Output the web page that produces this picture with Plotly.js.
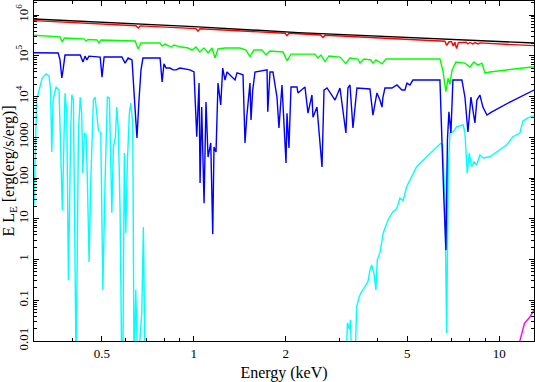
<!DOCTYPE html>
<html>
<head>
<meta charset="utf-8">
<script src="https://cdn.plot.ly/plotly-3.0.1.min.js"></script>
<style>
  body { margin: 0; background: #fff; }
  #plot { width: 535px; height: 382px; }
</style>
</head>
<body>
<div id="plot"></div>
<script>
// energies in keV, luminosities E*L_E
const blackE = [0.3, 1.0, 2.2, 13.0];
const blackL = [8.0e5, 5.2e5, 3.7e5, 2.05e5];

const redE = [0.3, 0.647, 0.658, 0.668, 1.017, 1.032, 1.048, 1.99, 2.02, 2.05, 2.60, 2.65, 2.69,
  6.40, 6.64, 6.73, 6.85, 6.98, 7.07, 7.16, 7.25, 7.35, 7.8, 7.9, 8.02, 8.2, 8.33, 8.52, 8.65, 13.0];
const redL = [7.3e5, 5.44e5, 4.8e5, 5.4e5, 4.65e5, 4.0e5, 4.6e5, 3.57e5, 3.1e5, 3.55e5, 3.23e5, 2.8e5, 3.2e5,
  2.31e5, 2.27e5, 1.8e5, 2.2e5, 2.2e5, 1.75e5, 2.15e5, 1.5e5, 2.1e5, 2.14e5, 1.95e5, 2.12e5, 1.95e5, 2.1e5, 1.95e5, 2.07e5, 1.77e5];

const greenE = [0.3, 0.352, 0.365, 0.371, 0.377, 0.4375, 0.444, 0.451, 0.483, 0.490, 0.497,
  0.643, 0.658, 0.672, 0.776, 0.788, 0.806, 0.843, 0.862, 0.902, 0.958, 0.987, 1.017, 1.048,
  1.081, 1.114, 1.148, 1.174, 1.201, 1.266, 1.417, 1.483, 1.528, 1.575, 1.673, 1.724, 1.777,
  1.96, 2.02, 2.082, 2.494, 2.551, 2.609, 2.69, 2.772, 3.011, 3.149, 3.247, 3.449, 3.50, 3.609,
  3.803, 3.861, 3.949, 4.133, 4.259, 6.397, 6.54, 6.693, 6.80, 6.90, 7.0, 7.215, 7.724, 8.02,
  8.265, 8.518, 8.779, 8.98, 9.324, 13.0];
const greenL = [3.2e5, 3.05e5, 2.9e5, 2.17e5, 2.73e5, 2.6e5, 2.3e5, 2.5e5, 2.44e5, 2.05e5, 2.44e5,
  2.3e5, 1.47e5, 2.05e5, 2.05e5, 1.73e5, 1.94e5, 1.64e5, 1.84e5, 1.66e5, 1.55e5, 1.38e5, 1.64e5, 1.24e5,
  1.55e5, 1.17e5, 1.55e5, 8.8e4, 1.47e5, 1.55e5, 1.55e5, 1.38e5, 9.5e4, 1.38e5, 1.38e5, 1.04e5, 1.31e5,
  1.24e5, 7.6e4, 1.10e5, 1.10e5, 8.8e4, 1.04e5, 7.2e4, 9.9e4, 9.3e4, 6.5e4, 8.8e4, 8.3e4, 6.6e4, 8.3e4,
  7.9e4, 6.6e4, 7.9e4, 6.3e4, 8.3e4, 8.3e4, 4.3e4, 1.31e4, 2.8e4, 2.0e4, 4.3e4, 7.0e4, 6.6e4, 5.3e4,
  7.0e4, 5.9e4, 6.6e4, 3.8e4, 4.0e4, 5.4e4];

const blueE = [0.3, 0.360, 0.365, 0.370, 0.3735, 0.379, 0.425, 0.434, 0.441, 0.447, 0.454, 0.494,
  0.501, 0.509, 0.582, 0.596, 0.610, 0.628, 0.643, 0.652, 0.662, 0.672, 0.682, 0.776, 0.788,
  0.799, 0.812, 0.836, 0.856, 0.875, 0.902, 0.972, 1.002, 1.023, 1.041, 1.049, 1.062, 1.081,
  1.097, 1.114, 1.137, 1.154, 1.165, 1.183, 1.201, 1.226, 1.244, 1.266, 1.285, 1.365, 1.386,
  1.450, 1.472, 1.491, 1.528, 1.540, 1.560, 1.587, 1.738, 1.747, 1.777, 1.817, 1.873, 1.901,
  1.945, 2.005, 2.020, 2.050, 2.082, 2.178, 2.194, 2.313, 2.366, 2.438, 2.457, 2.532, 2.630,
  2.670, 2.731, 2.901, 3.011, 3.149, 3.197, 3.247, 3.321, 3.422, 3.775, 3.861, 3.979, 4.070,
  4.133, 4.164, 4.227, 4.456, 4.627, 4.804, 4.914, 4.989, 5.103, 5.219, 6.397, 6.494, 6.592,
  6.693, 6.769, 6.846, 6.950, 7.056, 7.551, 7.724, 7.901, 8.082, 8.204, 8.328, 8.453, 8.648,
  8.845, 9.116, 9.465, 10.84, 13.0];
const blueL = [1.19e5, 1.17e5, 7.9e4, 2.85e4, 4.5e4, 1.04e5, 1.04e5, 7.0e4, 9.8e4, 7.9e4, 9.8e4, 9.3e4,
  3.0e4, 9.3e4, 9.3e4, 6.6e4, 8.8e4, 7.9e4, 4.7e3, 960, 8.2e3, 4.5e4, 8.8e4, 8.8e4, 2.27e4,
  6.3e4, 5.0e4, 5.0e4, 4.5e4, 4.5e4, 5.0e4, 4.5e4, 4.0e4, 1.03e3, 2.14e4, 75, 5.5e3, 24,
  7.3e3, 327, 723, 4.2, 577, 435, 2.14e4, 6.2e3, 5.0e4, 2.54e4, 4.0e4, 2.54e4, 3.8e4,
  3.4e4, 723, 3.1e3, 2.14e4, 2.65e3, 1.44e4, 4.0e4, 4.5e4, 4.2e3, 4.0e4, 4.0e4, 9.7e3, 1.69e3,
  1.92e4, 233, 3.9e3, 545, 1.71e4, 1.71e4, 1.22e4, 1.71e4, 3.9e3, 1.09e4, 3.1e3, 5.5e3, 186,
  1.44e4, 1.62e4, 8.2e3, 1.62e4, 1.27e3, 1.62e4, 1.92e4, 1.69e3, 1.62e4, 1.53e4, 3.5e3, 1.22e4, 8.2e3,
  5.5e3, 9.7e3, 1.62e4, 1.62e4, 1.92e4, 1.44e4, 1.44e4, 2.14e4, 1.92e4, 2.54e4, 2.54e4, 486, 29,
  1.7, 857, 4.2e3, 1.27e3, 2.54e4, 2.54e4, 9.7e3, 1.35e3, 9.7e3, 4.7e3, 2.24e3, 8.2e3, 1.09e4,
  5.5e3, 3.5e3, 4.2e3, 7.3e3, 1.44e4];

const cyanE = [0.3, 0.306, 0.319, 0.3286, 0.336, 0.340, 0.343, 0.3464, 0.3542, 0.3623, 0.3715,
  0.3763, 0.379, 0.3841, 0.3888, 0.3959, 0.399, 0.4038, 0.4121, 0.4193, 0.425, 0.430, 0.4333,
  0.4385, 0.4442, 0.4486, 0.4544, 0.4603, 0.4694, 0.4754, 0.4874, 0.4963, 0.504, 0.5127, 0.5217,
  0.5296, 0.5393, 0.5458, 0.554, 0.5598, 0.5666, 0.5738, 0.5813, 0.5857, 0.5928, 0.5991, 0.6063,
  0.6156, 0.6221, 0.6315, 0.6377, 0.646, 0.6558, 0.676, 0.6842, 0.6929,
  3.149, 3.186, 3.234, 3.259, 3.296, 3.371, 3.414, 3.482, 3.545, 3.635, 3.718, 3.775, 3.824,
  3.890, 3.949, 3.988, 4.070, 4.173, 4.323, 4.489, 4.615, 4.732, 4.793, 4.841, 4.977, 5.169,
  5.366, 5.787, 6.241, 6.432, 6.529, 6.643, 6.729, 6.810, 6.898, 7.071, 7.254, 7.625, 7.724,
  7.859, 7.978, 8.124, 8.265, 8.433, 8.648, 8.864, 9.324, 10.05, 10.57, 11.09, 11.69, 11.96,
  12.41, 12.9, 13.0];
const cyanL = [22, 8.2e3, 2.85e4, 3.6e4, 3.2e4, 1.44e4, 435, 8.2e3, 1.71e4, 1.44e4, 16,
  2.65e3, 1.2e4, 3.9e3, 0.31, 1.8e3, 1.1e4, 8.2e3, 0.002, 1.27e3, 9.7e3, 3.5e3, 133,
  1.27e3, 1.13e3, 89, 0.87, 89, 8.2e3, 9.7e3, 1.5e3, 1.27e3, 0.18, 89, 9.7e3,
  9.2e3, 14, 577, 1.0e3, 5.5e3, 1.5e3, 19, 0.002, 0.002, 410, 4.5, 233,
  3.9e3, 6.9e3, 2.2e3, 0.002, 0.18, 0.002, 0.049, 6.3, 0.002,
  0.002, 0.028, 0.019, 0.033, 0.002, 0.002, 0.070, 0.122, 0.162, 0.215, 0.285, 0.55, 0.73,
  0.47, 0.18, 0.97, 1.45, 4.5, 9.3, 14.9, 17.3, 32, 30, 27, 61, 108,
  189, 333, 587, 710, 646, 29, 0.0157, 157, 1270, 1370, 1810, 2000, 1270,
  130, 410, 189, 251, 208, 367, 310, 333, 500, 646, 1030, 1270, 2500,
  3000, 3300, 3350];

const magentaE = [11.4, 11.69, 12.1, 12.6, 13.0];
const magentaL = [0.005, 0.0102, 0.027, 0.0388, 0.058];

const xTicks = [0.5, 1, 2, 5, 10];
const xTickText = ['0.5', '1', '2', '5', '10'];
const xMinor = [0.4, 0.6, 0.7, 0.8, 0.9, 3, 4, 6, 7, 8, 9];
const yTicks = [0.01, 0.1, 1, 10, 100, 1000, 1e4, 1e5, 1e6];
const yTickText = ['0.01', '0.1', '1', '10', '100', '1000', '10<sup>4</sup>', '10<sup>5</sup>', '10<sup>6</sup>'];

let yMinor = [];
for (let d = -2; d < 6; d++) {
  for (let m = 2; m <= 9; m++) yMinor.push(m * Math.pow(10, d));
}
yMinor.push(2e6);

function line(x, y, color) {
  return { x: x, y: y, type: 'scatter', mode: 'lines', line: { color: color, width: 1.4 }, hoverinfo: 'skip' };
}

const data = [
  line(cyanE, cyanL, '#00ffff'),
  line(magentaE, magentaL, '#ff00ff'),
  line(blueE, blueL, '#0000ff'),
  line(greenE, greenL, '#00ff00'),
  line(redE, redL, '#ff0000'),
  line(blackE, blackL, '#000000')
];

const axisBase = {
  type: 'log',
  showgrid: false,
  zeroline: false,
  showline: true,
  linecolor: '#000',
  linewidth: 1,
  mirror: 'allticks',
  ticks: 'inside',
  ticklen: 5,
  tickwidth: 1,
  tickcolor: '#000',
  tickmode: 'array'
};

const layout = {
  width: 535,
  height: 382,
  margin: { l: 34, r: 1, t: 1, b: 41 },
  paper_bgcolor: '#fff',
  plot_bgcolor: '#fff',
  showlegend: false,
  font: { family: 'Liberation Serif, Times New Roman, serif', size: 13, color: '#000' },
  xaxis: Object.assign({}, axisBase, {
    range: [Math.log10(0.3), Math.log10(13)],
    tickvals: xTicks,
    ticktext: xTickText,
    minor: { tickmode: 'array', tickvals: xMinor, ticks: 'inside', ticklen: 3, tickcolor: '#000' },
    title: { text: 'Energy (keV)', standoff: 8 }
  }),
  yaxis: Object.assign({}, axisBase, {
    range: [-2, 6.344],
    tickvals: yTicks,
    ticktext: yTickText,
    tickangle: -90,
    minor: { tickmode: 'array', tickvals: yMinor, ticks: 'inside', ticklen: 3, tickcolor: '#000' },
    title: { text: 'E L<sub>E</sub> [erg(erg/s/erg)]', standoff: 4 }
  })
};

Plotly.newPlot('plot', data, layout, { staticPlot: true, displayModeBar: false });
</script>
</body>
</html>
